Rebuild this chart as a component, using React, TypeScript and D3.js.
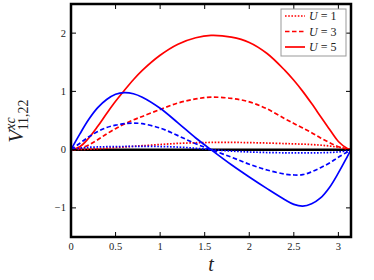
import React from "react";
import * as d3 from "d3";

const T = [0, 0.1, 0.2, 0.3, 0.4, 0.5, 0.6, 0.7, 0.8, 1.0, 1.2, 1.4, 1.5708, 1.8, 2.0, 2.2, 2.4, 2.5, 2.6, 2.7, 2.8, 2.9, 3.0, 3.1, Math.PI];

const redU1 = [0, 0.003, 0.008, 0.015, 0.025, 0.035, 0.045, 0.056, 0.067, 0.088, 0.107, 0.118, 0.123, 0.124, 0.12, 0.113, 0.104, 0.099, 0.094, 0.087, 0.077, 0.062, 0.04, 0.014, 0];
const redU3 = [0, 0.02, 0.08, 0.17, 0.27, 0.36, 0.44, 0.51, 0.57, 0.69, 0.8, 0.87, 0.9, 0.88, 0.82, 0.7, 0.53, 0.45, 0.37, 0.29, 0.2, 0.12, 0.05, 0.01, 0];
const redU5 = [0, 0.05, 0.2, 0.4, 0.62, 0.83, 1.02, 1.2, 1.36, 1.62, 1.81, 1.92, 1.96, 1.93, 1.84, 1.65, 1.36, 1.19, 1.0, 0.79, 0.57, 0.35, 0.14, 0.02, 0];
const blueU1 = [0, 0.025, 0.04, 0.046, 0.05, 0.052, 0.054, 0.055, 0.055, 0.053, 0.044, 0.024, 0, -0.025, -0.04, -0.05, -0.055, -0.057, -0.057, -0.056, -0.054, -0.05, -0.04, -0.02, 0];
const blueU3 = [0, 0.11, 0.22, 0.31, 0.38, 0.42, 0.445, 0.455, 0.445, 0.37, 0.24, 0.1, 0, -0.13, -0.25, -0.35, -0.42, -0.435, -0.43, -0.38, -0.31, -0.23, -0.13, -0.04, 0];
const blueU5 = [0, 0.27, 0.52, 0.72, 0.86, 0.95, 0.98, 0.96, 0.9, 0.71, 0.46, 0.2, 0, -0.26, -0.47, -0.67, -0.86, -0.94, -0.97, -0.93, -0.83, -0.65, -0.4, -0.12, 0];

const xTicks = [0, 0.5, 1, 1.5, 2, 2.5, 3];
const yTicks = [-1, 0, 1, 2];
const legendLabels = ["1", "3", "5"];

const W = 374, H = 280;
const left = 71, right = 351, top = 4, bottom = 237;

export default function App() {
  const x = d3.scaleLinear().domain([0, Math.PI]).range([left, right]);
  const y = d3.scaleLinear().domain([-1.5, 2.5]).range([bottom, top]);
  const line = (vals: number[]) =>
    d3.line<number>().x((_, i) => x(T[i])).y((v) => y(v)).curve(d3.curveCatmullRom.alpha(0.5))(vals) || "";

  const dotted = "1.6,1.6";
  const dashed = "4.5,2.5";
  const series = [
    { v: redU1, c: "#ff0000", d: dotted },
    { v: redU3, c: "#ff0000", d: dashed },
    { v: redU5, c: "#ff0000", d: "" },
    { v: blueU1, c: "#0000ff", d: dotted },
    { v: blueU3, c: "#0000ff", d: dashed },
    { v: blueU5, c: "#0000ff", d: "" },
  ];
  const font = "'Liberation Serif', 'DejaVu Serif', serif";

  return (
    <svg width={W} height={H} style={{ position: "absolute", left: 0, top: 0 }}>
      <rect x={0} y={0} width={W} height={H} fill="#fff" />
      <clipPath id="pc">
        <rect x={left} y={top} width={right - left} height={bottom - top} />
      </clipPath>
      <line x1={left} x2={right} y1={y(0)} y2={y(0)} stroke="#000" strokeWidth={2.5} />
      <g clipPath="url(#pc)">
        {series.map((s, i) => (
          <path key={i} d={line(s.v)} fill="none" stroke={s.c} strokeWidth={1.7}
            strokeDasharray={s.d || undefined} />
        ))}
      </g>
      {xTicks.map((t) => (
        <g key={"x" + t}>
          <line x1={x(t)} x2={x(t)} y1={bottom} y2={bottom - 5} stroke="#000" strokeWidth={1} />
          <line x1={x(t)} x2={x(t)} y1={top} y2={top + 5} stroke="#000" strokeWidth={1} />
          <text x={x(t)} y={250} textAnchor="middle" fontFamily={font} fontSize={10.5} fill="#222">{t}</text>
        </g>
      ))}
      {yTicks.map((v) => (
        <g key={"y" + v}>
          <line x1={left} x2={left + 5} y1={y(v)} y2={y(v)} stroke="#000" strokeWidth={1} />
          <line x1={right} x2={right - 5} y1={y(v)} y2={y(v)} stroke="#000" strokeWidth={1} />
          <text x={66} y={y(v) + 3.5} textAnchor="end" fontFamily={font} fontSize={10.5} fill="#222">
            {v < 0 ? "\u2212" + Math.abs(v) : v}
          </text>
        </g>
      ))}
      <rect x={left} y={top} width={right - left} height={bottom - top} fill="none" stroke="#000" strokeWidth={2.5} />
      <text x={211} y={271} textAnchor="middle" fontFamily={font} fontStyle="italic" fontSize={20} fill="#222">t</text>
      <g transform="translate(23,121) rotate(-90)">
        <text textAnchor="middle" fontFamily={font} fill="#222">
          <tspan fontStyle="italic" fontSize={21}>V</tspan>
          <tspan fontStyle="italic" fontSize={14} dy={-8}>xc</tspan>
          <tspan fontSize={14} dx={-13} dy={13}>11,22</tspan>
        </text>
      </g>
      <rect x={281} y={9} width={65} height={47} fill="#fff" stroke="#999" strokeWidth={1} />
      {legendLabels.map((u, i) => {
        const yy = 16 + i * 15.5;
        return (
          <g key={"l" + u}>
            <line x1={285} x2={305} y1={yy} y2={yy} stroke="#ff0000" strokeWidth={1.7}
              strokeDasharray={i === 0 ? dotted : i === 1 ? dashed : undefined} />
            <text x={309} y={yy + 4} fontFamily={font} fontSize={12} fill="#222">
              <tspan fontStyle="italic">U</tspan> = {u}
            </text>
          </g>
        );
      })}
    </svg>
  );
}
